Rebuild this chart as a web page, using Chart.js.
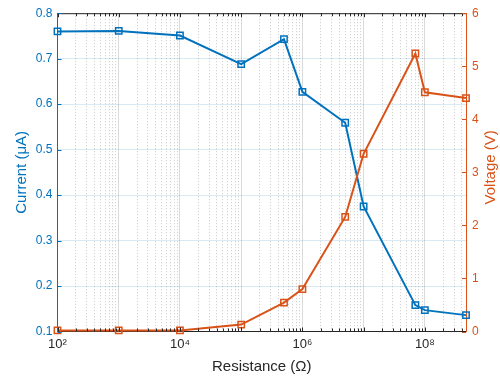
<!DOCTYPE html>
<html lang="en">
<head>
    <meta charset="UTF-8">
    <title>Current and voltage vs resistance</title>
    <script src="https://cdn.jsdelivr.net/npm/chart.js"></script>
    <style>
        html, body {
            margin: 0;
            padding: 0;
            background: #fff;
        }
        .chart-container {
            width: 500px;
            height: 378px;
        }
    </style>
</head>
<body>
    <div class="chart-container">
        <canvas id="ivChart"></canvas>
    </div>

    <script>
        // data
        const resistance = [1e2, 1e3, 1e4, 1e5, 5e5, 1e6, 5e6, 1e7, 7e7, 1e8, 4.7e8];
        const current = [0.760, 0.761, 0.751, 0.688, 0.743, 0.627, 0.559, 0.375, 0.158, 0.147, 0.136];
        const voltage = [0.02, 0.02, 0.02, 0.13, 0.545, 0.80, 2.16, 3.35, 5.24, 4.51, 4.40];

        const xMin = 1e2, xMax = 4.7e8;
        const xLabels = { 2: '10²', 4: '10⁴', 6: '10⁶', 8: '10⁸' };
        const currentTicks = [0.1, 0.2, 0.3, 0.4, 0.5, 0.6, 0.7, 0.8];
        const voltageTicks = [0, 1, 2, 3, 4, 5, 6];

        const blue = '#0072BD';
        const orange = '#D95319';
        const axisBlack = '#262626';
        const fontFamily = 'Liberation Sans, Arial, sans-serif';

        function isDecade(v) {
            const e = Math.log10(v);
            return Math.abs(e - Math.round(e)) < 1e-9;
        }

        // 1..9 x 10^n positions for the log grid
        function logTicks() {
            let out = [];
            for (let e = 2; e <= 8; e++) {
                for (let m = 1; m <= 9; m++) {
                    let v = m * Math.pow(10, e);
                    if (v <= xMax) out.push({ value: v });
                }
            }
            return out;
        }

        // MATLAB style box: top line, inward ticks, right label reading upwards
        const boxPlugin = {
            id: 'box',
            afterDraw(chart) {
                const ctx = chart.ctx;
                const a = chart.chartArea;
                const sx = chart.scales.x, sy = chart.scales.y, sy1 = chart.scales.y1;
                ctx.save();
                ctx.lineWidth = 1;
                ctx.strokeStyle = axisBlack;
                ctx.beginPath();
                ctx.moveTo(a.left, a.top + 0.5);
                ctx.lineTo(a.right, a.top + 0.5);
                sx.ticks.forEach(t => {
                    let x = Math.round(sx.getPixelForValue(t.value)) + 0.5;
                    let len = isDecade(t.value) ? 4 : 3;
                    ctx.moveTo(x, a.bottom);
                    ctx.lineTo(x, a.bottom - len);
                    ctx.moveTo(x, a.top);
                    ctx.lineTo(x, a.top + len);
                });
                ctx.stroke();

                ctx.strokeStyle = blue;
                ctx.beginPath();
                currentTicks.forEach(v => {
                    let y = Math.round(sy.getPixelForValue(v)) + 0.5;
                    ctx.moveTo(a.left, y);
                    ctx.lineTo(a.left + 4, y);
                });
                ctx.stroke();

                ctx.strokeStyle = orange;
                ctx.beginPath();
                voltageTicks.forEach(v => {
                    let y = Math.round(sy1.getPixelForValue(v)) + 0.5;
                    ctx.moveTo(a.right, y);
                    ctx.lineTo(a.right - 4, y);
                });
                ctx.stroke();

                ctx.translate(490.5, (a.top + a.bottom) / 2 - 5);
                ctx.rotate(-Math.PI / 2);
                ctx.fillStyle = orange;
                ctx.font = '15px ' + fontFamily;
                ctx.textAlign = 'center';
                ctx.textBaseline = 'middle';
                ctx.fillText('Voltage (V)', 0, 0);
                ctx.restore();
            }
        };

        const yTickFont = { family: fontFamily, size: 12 };
        const xTickFont = { family: fontFamily, size: 13 };
        const titleFont = { family: fontFamily, size: 15 };

        new Chart(document.getElementById('ivChart'), {
            type: 'line',
            data: {
                datasets: [{
                    label: 'Voltage',
                    data: resistance.map((r, i) => ({ x: r, y: voltage[i] })),
                    yAxisID: 'y1',
                    borderColor: orange,
                    backgroundColor: 'rgba(0,0,0,0)',
                    borderWidth: 2,
                    pointStyle: 'rect',
                    pointRadius: 4.5,
                    pointBorderWidth: 1.5,
                    tension: 0,
                    clip: false
                }, {
                    label: 'Current',
                    data: resistance.map((r, i) => ({ x: r, y: current[i] })),
                    yAxisID: 'y',
                    borderColor: blue,
                    backgroundColor: 'rgba(0,0,0,0)',
                    borderWidth: 2,
                    pointStyle: 'rect',
                    pointRadius: 4.5,
                    pointBorderWidth: 1.5,
                    tension: 0,
                    clip: false
                }]
            },
            options: {
                responsive: true,
                maintainAspectRatio: false,
                animation: false,
                layout: { padding: { top: 10, left: 0, right: 0, bottom: 0 } },
                plugins: {
                    legend: { display: false },
                    tooltip: { enabled: false }
                },
                scales: {
                    x: {
                        type: 'logarithmic',
                        min: xMin,
                        max: xMax,
                        afterBuildTicks: s => { s.ticks = logTicks(); },
                        afterFit: s => { s.height = 46.5; },
                        ticks: {
                            autoSkip: false,
                            maxRotation: 0,
                            padding: 5,
                            color: axisBlack,
                            font: xTickFont,
                            callback: v => {
                                let e = Math.round(Math.log10(v));
                                return isDecade(v) && xLabels[e] ? xLabels[e] : '';
                            }
                        },
                        grid: {
                            drawTicks: false,
                            color: c => isDecade(c.tick.value) ? 'rgba(0,0,0,0.14)' : 'rgba(0,0,0,0.22)',
                            lineWidth: 1
                        },
                        border: {
                            display: true,
                            color: axisBlack,
                            width: 1,
                            dash: c => (c.tick && !isDecade(c.tick.value)) ? [1, 2] : []
                        },
                        title: {
                            display: true,
                            text: 'Resistance (Ω)',
                            color: axisBlack,
                            font: titleFont,
                            padding: { top: 3, bottom: 2 }
                        }
                    },
                    y: {
                        position: 'left',
                        min: 0.1,
                        max: 0.8,
                        afterBuildTicks: s => { s.ticks = currentTicks.map(v => ({ value: v })); },
                        afterFit: s => { s.width = 57.5; },
                        ticks: {
                            padding: 5,
                            color: blue,
                            font: yTickFont,
                            callback: v => v.toFixed(1)
                        },
                        grid: {
                            drawTicks: false,
                            color: 'rgba(0,114,189,0.15)'
                        },
                        border: { color: blue, width: 1 },
                        title: {
                            display: true,
                            text: 'Current (μA)',
                            color: blue,
                            font: titleFont,
                            padding: { top: 13, bottom: 0 }
                        }
                    },
                    y1: {
                        position: 'right',
                        min: 0,
                        max: 6,
                        afterBuildTicks: s => { s.ticks = voltageTicks.map(v => ({ value: v })); },
                        afterFit: s => { s.width = 34; },
                        ticks: {
                            padding: 6,
                            color: orange,
                            font: yTickFont
                        },
                        grid: {
                            drawOnChartArea: false,
                            drawTicks: false
                        },
                        border: { color: orange, width: 1 },
                        title: { display: false }
                    }
                }
            },
            plugins: [boxPlugin]
        });
    </script>
</body>
</html>
